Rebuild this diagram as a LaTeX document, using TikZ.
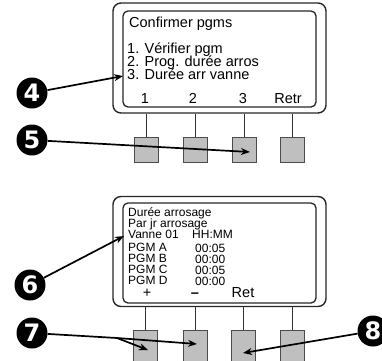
\documentclass[tikz,border=0pt]{standalone}
\usepackage{fontspec}
\setmainfont{Liberation Sans}
\newfontfamily\calloutfont{DejaVu Sans}
\usetikzlibrary{arrows.meta, positioning}

\begin{document}
\begin{tikzpicture}[
    x=1pt, y=-1pt,
    frame/.style={rectangle, draw=black!85, line width=1.4pt, rounded corners=8pt, minimum width=213pt, minimum height=110pt, inner sep=0pt},
    screen/.style={rectangle, draw=black!85, line width=1.3pt, rounded corners=5pt, minimum width=193pt, inner sep=0pt},
    bigtxt/.style={anchor=base west, inner sep=0pt, font=\fontsize{14.5}{15}\selectfont},
    smalltxt/.style={anchor=base west, inner sep=0pt, font=\fontsize{12}{12}\selectfont},
    key/.style={rectangle, draw=black!70, fill=black!25, line width=0.9pt, minimum width=24pt, minimum height=25pt, inner sep=0pt},
    stem/.style={draw=black!80, line width=0.8pt},
    callout/.style={circle, fill=black, text=white, minimum size=31pt, inner sep=0pt, font=\calloutfont\fontsize{24}{24}\selectfont\bfseries},
    arrow/.style={-{Stealth[length=9pt, width=7pt]}, line width=1.7pt}
]
    \clip (0,0) rectangle (382,360);

    \node (pa) [frame] at (219.5,58) {};
    \node (sa) [screen, minimum height=96pt] at (219.5,59) {};
    \node (a0) [bigtxt] at (129,27) {Confirmer pgms};
    \node (a1) [bigtxt] at (127,53) {1. Vérifier pgm};
    \node (a2) [bigtxt] at (127,66) {2. Prog. durée arros};
    \node (a3) [bigtxt] at (127,79) {3. Durée arr vanne};
    \node (fa1) [bigtxt, anchor=base] at (145,103) {1};
    \node (fa2) [bigtxt, anchor=base] at (193,103) {2};
    \node (fa3) [bigtxt, anchor=base] at (243,103) {3};
    \node (fa4) [bigtxt, anchor=base] at (288,103) {Retr};
    \foreach \n/\x in {1/146, 2/195, 3/244, 4/292} {
        \node (ka\n) [key] at (\x,149.5) {};
        \draw[stem] (ka\n) -- (ka\n |- pa.south);
    }

    \node (pb) [frame] at (219.5,251.5) {};
    \node (sb) [screen, minimum height=100pt] at (219.5,253) {};
    \node (b0) [smalltxt] at (128,216) {Durée arrosage};
    \node (b1) [smalltxt] at (128,227) {Par jr arrosage};
    \node (b2) [smalltxt] at (128,238) {Vanne 01};
    \node (b3) [smalltxt] at (128,251) {PGM A};
    \node (b4) [smalltxt] at (128,262) {PGM B};
    \node (b5) [smalltxt] at (128,273) {PGM C};
    \node (b6) [smalltxt] at (128,284) {PGM D};
    \node (c2) [smalltxt] at (192,238) {HH:MM};
    \node (c3) [smalltxt] at (195,252) {00:05};
    \node (c4) [smalltxt] at (195,263) {00:00};
    \node (c5) [smalltxt] at (195,274) {00:05};
    \node (c6) [smalltxt] at (195,285) {00:00};
    \node (fb1) [bigtxt, anchor=base] at (147,297) {+};
    \node (fb2) [bigtxt, anchor=base] at (195,297) {\textbf{--}};
    \node (fb3) [bigtxt, anchor=base] at (243,297) {Ret};
    \foreach \n/\x in {1/145.5, 2/195, 3/243.5, 4/292} {
        \node (kb\n) [key, minimum height=34pt] at (\x,347) {};
        \draw[stem] (kb\n) -- (kb\n |- pb.south);
    }

    \node (n4) [callout] at (32,93) {4};
    \node (n5) [callout] at (32,140) {5};
    \node (n6) [callout] at (30,285) {6};
    \node (n7) [callout] at (32,333) {7};
    \node (n8) [callout] at (373,331) {8};

    \coordinate (t4) at (123,76);
    \coordinate (t5) at (250,152);
    \coordinate (t6) at (124,236);
    \coordinate (k7) at (117,338);
    \coordinate (t7a) at (148,350);
    \coordinate (t7b) at (197,344);
    \coordinate (t8) at (243,353);

    \draw[arrow] (n4) -- (t4);
    \draw[arrow] (n5) -- (t5);
    \draw[arrow] (n6) -- (t6);
    \draw[arrow] (n7) -- (k7) -- (t7a);
    \draw[arrow] (k7) -- (t7b);
    \draw[arrow] (n8) -- (t8);
\end{tikzpicture}
\end{document}
